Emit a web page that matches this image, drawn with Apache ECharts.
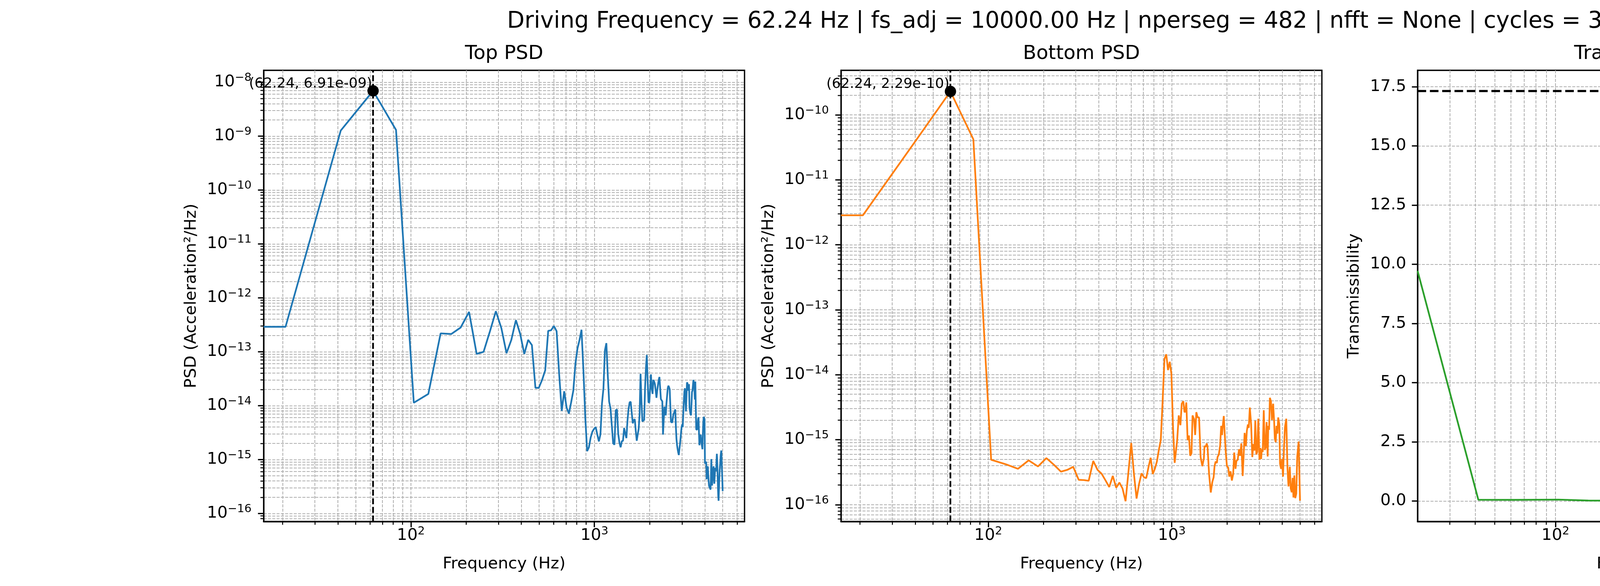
<!DOCTYPE html>
<html>
<head>
<meta charset="utf-8">
<script src="https://cdn.jsdelivr.net/npm/echarts@6/dist/echarts.min.js"></script>
<style>
html,body{margin:0;padding:0;background:#fff;}
#chart{width:5400px;height:1500px;}
</style>
</head>
<body>
<div id="chart"></div>
<script>
// ---------------- texts ----------------
const suptitleText = 'Driving Frequency = 62.24 Hz | fs_adj = 10000.00 Hz | nperseg = 482 | nfft = None | cycles = 3';
const panelTitles = ['Top PSD', 'Bottom PSD', 'Transfer Function'];
const xLabelText = 'Frequency (Hz)';
const psdLabelText = 'PSD (Acceleration\u00b2/Hz)';
const tfLabelText = 'Transmissibility';
const topAnnot = '(62.24, 6.91e-09)';
const bottomAnnot = '(62.24, 2.29e-10)';

// ---------------- tick values ----------------
const xMajor = [100, 1000];
const xMinor = [20, 30, 40, 50, 60, 70, 80, 90, 200, 300, 400, 500, 600, 700, 800, 900, 2000, 3000, 4000, 5000, 6000];
const topYMajor = [1e-16, 1e-15, 1e-14, 1e-13, 1e-12, 1e-11, 1e-10, 1e-9, 1e-8];
const bottomYMajor = [1e-16, 1e-15, 1e-14, 1e-13, 1e-12, 1e-11, 1e-10];
const minorMult = [2, 3, 4, 5, 6, 7, 8, 9];
const tfYTicks = [0, 2.5, 5, 7.5, 10, 12.5, 15, 17.5];

// ---------------- peaks / reference lines ----------------
const drivingFreq = 62.24;
const topPeak = 6.91e-9;
const bottomPeak = 2.29e-10;
const tfRefLine = 17.32;

// ---------------- data ----------------
// FFT bin frequencies (Hz)
const binFreq = [20.75,41.49,62.24,82.99,103.73,124.48,145.23,165.98,186.72,207.47,
228.22,248.96,269.71,290.46,311.20,331.95,352.70,373.44,394.19,414.94,
435.68,456.43,477.18,497.93,518.67,539.42,560.17,580.91,601.66,622.41,
643.15,663.90,684.65,705.39,726.14,746.89,767.63,788.38,809.13,829.88,
850.62,871.37,892.12,912.86,933.61,954.36,975.10,995.85,1016.60,1037.34,
1058.09,1078.84,1099.59,1120.33,1141.08,1161.83,1182.57,1203.32,1224.07,1244.81,
1265.56,1286.31,1307.05,1327.80,1348.55,1369.29,1390.04,1410.79,1431.54,1452.28,
1473.03,1493.78,1514.52,1535.27,1556.02,1576.76,1597.51,1618.26,1639.00,1659.75,
1680.50,1701.24,1721.99,1742.74,1763.49,1784.23,1804.98,1825.73,1846.47,1867.22,
1887.97,1908.71,1929.46,1950.21,1970.95,1991.70,2012.45,2033.20,2053.94,2074.69,
2095.44,2116.18,2136.93,2157.68,2178.42,2199.17,2219.92,2240.66,2261.41,2282.16,
2302.90,2323.65,2344.40,2365.15,2385.89,2406.64,2427.39,2448.13,2468.88,2489.63,
2510.37,2531.12,2551.87,2572.61,2593.36,2614.11,2634.85,2655.60,2676.35,2697.10,
2717.84,2738.59,2759.34,2780.08,2800.83,2821.58,2842.32,2863.07,2883.82,2904.56,
2925.31,2946.06,2966.80,2987.55,3008.30,3029.05,3049.79,3070.54,3091.29,3112.03,
3132.78,3153.53,3174.27,3195.02,3215.77,3236.51,3257.26,3278.01,3298.76,3319.50,
3340.25,3361.00,3381.74,3402.49,3423.24,3443.98,3464.73,3485.48,3506.22,3526.97,
3547.72,3568.46,3589.21,3609.96,3630.71,3651.45,3672.20,3692.95,3713.69,3734.44,
3755.19,3775.93,3796.68,3817.43,3838.17,3858.92,3879.67,3900.41,3921.16,3941.91,
3962.66,3983.40,4004.15,4024.90,4045.64,4066.39,4087.14,4107.88,4128.63,4149.38,
4170.12,4190.87,4211.62,4232.37,4253.11,4273.86,4294.61,4315.35,4336.10,4356.85,
4377.59,4398.34,4419.09,4439.83,4460.58,4481.33,4502.07,4522.82,4543.57,4564.32,
4585.06,4605.81,4626.56,4647.30,4668.05,4688.80,4709.54,4730.29,4751.04,4771.78,
4792.53,4813.28,4834.02,4854.77,4875.52,4896.27,4917.01,4937.76,4958.51,4979.25,
5000.00];

// Top PSD, one value per bin
const topPsd = [2.9e-13,1.27e-9,6.91e-9,1.3e-9,1.13e-14,1.65e-14,2.19e-13,2.13e-13,2.81e-13,5.48e-13,
9.1e-14,9.95e-14,2.4e-13,5.64e-13,2.74e-13,9.4e-14,1.66e-13,3.86e-13,2.13e-13,9.1e-14,
1.66e-13,1.33e-13,2.14e-14,2.14e-14,3.0e-14,4.5e-14,2.44e-13,2.5e-13,3.0e-13,2.4e-13,
3.7e-14,8.0e-15,1.85e-14,9.2e-15,7.1e-15,1.15e-14,1.9e-14,6.1e-14,1.16e-13,1.66e-13,
2.56e-13,4.5e-14,6e-15,1.43e-15,1.69e-15,2.56e-15,3.3e-15,3.7e-15,4.0e-15,2.9e-15,
2.17e-15,2.94e-15,1.09e-14,2.1e-14,1.06e-13,1.44e-13,3.7e-14,1.18e-14,8.9e-15,4.2e-15,
2.0e-15,1.89e-15,8.2e-15,8.5e-15,3.0e-15,2.05e-15,1.69e-15,2.19e-15,2.23e-15,3.85e-15,
3.0e-15,2.5e-15,5.3e-15,8.7e-15,1.15e-14,1.18e-14,7.4e-15,4.7e-15,5.4e-15,5.6e-15,
3.4e-15,2.23e-15,2.9e-15,3.7e-15,7e-15,3.9e-14,1.2e-14,5.1e-15,5.3e-15,5.4e-15,
2.1e-14,4.9e-14,8.7e-14,3.1e-14,1.15e-14,1.15e-14,2.1e-14,3.8e-14,2.1e-14,1.65e-14,
3.0e-14,2.8e-14,2.5e-14,1.9e-14,1.4e-14,1.9e-14,2.4e-14,3.0e-14,3.4e-14,2.1e-14,
1.32e-14,1.3e-14,1.2e-14,2.9e-15,5.3e-15,9.5e-15,7.8e-15,6.6e-15,1.09e-14,1.52e-14,
2.1e-14,2.34e-14,2.2e-14,2.0e-14,9.7e-15,5.0e-15,5.0e-15,4.85e-15,5.9e-15,7.0e-15,
7.3e-15,7.9e-15,8.5e-15,4.0e-15,2.4e-15,1.84e-15,1.55e-15,1.35e-15,1.21e-15,1.55e-15,
1.89e-15,2.4e-15,3.2e-15,4.0e-15,4.5e-15,4.0e-15,7.0e-15,1.2e-14,1.8e-14,2.1e-14,
1.3e-14,7.8e-15,1.44e-14,2.7e-14,2.6e-14,1.9e-14,2.2e-14,2.5e-14,9.2e-15,7.8e-15,
7.0e-15,6.6e-15,1.09e-14,1.8e-14,1.9e-14,2.4e-14,3.0e-14,3.1e-14,2.1e-14,1.3e-14,
2.8e-14,9.2e-15,3.6e-15,3.5e-15,3.6e-15,4.5e-15,5.6e-15,6.1e-15,3.2e-15,1.84e-15,
2.3e-15,2.5e-15,2.9e-15,2.3e-15,1.95e-15,1.75e-15,1.55e-15,3.0e-15,5.0e-15,6.2e-15,
5.9e-15,5.6e-15,8.4e-16,8.7e-16,8.9e-16,9.1e-16,4.3e-16,5.7e-16,7.0e-16,7.5e-16,
5.4e-16,4.1e-16,3.3e-16,3.1e-16,3.0e-16,2.9e-16,2.77e-16,4.7e-16,1.02e-15,5.7e-16,
3.3e-16,4.3e-16,5.7e-16,6.5e-16,7.5e-16,5.0e-16,3.56e-16,4.7e-16,6.2e-16,7.0e-16,
6.5e-16,6.1e-16,9.1e-16,1.28e-15,9.7e-16,5.7e-16,3.3e-16,2.1e-16,1.72e-16,2.8e-16,
4.3e-16,6.1e-16,7.5e-16,9.1e-16,1.18e-15,1.35e-15,1.47e-15,9.7e-16,6.2e-16,4.1e-16,
2.6e-16];

// Bottom PSD: first 50 bins, then traced vertices above ~1 kHz
const bottomPsdLow = [2.84e-12,4.5e-11,2.29e-10,4.2e-11,4.9e-16,4.19e-16,3.56e-16,4.8e-16,3.87e-16,5.2e-16,
4.1e-16,3.22e-16,3.43e-16,3.82e-16,2.41e-16,2.39e-16,2.33e-16,4.7e-16,3.43e-16,2.99e-16,
2.36e-16,1.87e-16,2.77e-16,1.82e-16,2.19e-16,1.77e-16,1.13e-16,3.2e-16,8.9e-16,2.96e-16,
1.24e-16,2.1e-16,3.03e-16,2.64e-16,2.56e-16,3.77e-16,5.27e-16,2.96e-16,3.56e-16,4.6e-16,
6.96e-16,9.8e-16,4e-15,1.75e-14,2.06e-14,1.18e-14,1.58e-14,1.03e-14,1.5e-15,4.4e-16];
const bottomFreqHigh = [1070.7,1091.7,1115.2,1133.6,1156.1,1173.2,1184.8,1200.4,1220.2,1240.3,
1260.7,1281.5,1298.3,1324.0,1341.5,1361.3,1383.7,1408.8,1436.6,1467.5,
1496.5,1508.8,1533.6,1551.3,1566.6,1597.6,1631.9,1664.2,1691.6,1711.0,
1733.5,1762.0,1776.5,1805.8,1835.5,1859.7,1881.1,1896.5,1921.4,1953.1,
1969.1,1998.3,2031.2,2057.9,2091.8,2126.2,2161.2,2189.7,2225.7,2251.3,
2288.4,2326.0,2356.6,2395.4,2434.9,2462.8,2495.2,2536.3,2565.5,2599.2,
2629.1,2663.7,2707.6,2747.7,2783.8,2820.4,2852.9,2890.4,2923.6,2962.1,
3005.9,3045.4,3070.4,3095.5,3131.1,3172.3,3214.0,3251.0,3288.4,3331.6,
3358.9,3392.0,3425.4,3470.5,3516.1,3568.2,3615.1,3644.7,3686.6,3722.9,
3765.7,3802.8,3859.1,3890.8,3942.0,3987.3,4039.7,4086.2,4139.9,4208.1,
4270.4,4326.6,4397.9,4448.5,4506.9,4558.8,4603.7,4656.6,4710.1,4772.1,
4827.0,4914.5,5000];
const bottomPsdHigh = [9.84e-16,2.36e-15,1.67e-15,3.58e-15,3.89e-15,2.65e-15,2.71e-15,3.75e-15,9.84e-16,1.16e-15,
5.65e-16,6.19e-16,2.36e-15,2.06e-15,1.18e-15,2.65e-15,2.2e-15,2.2e-15,5.4e-16,3.91e-16,
5.15e-16,7.98e-16,7.8e-16,8.75e-16,7.8e-16,2.96e-16,1.54e-16,2.24e-16,2.64e-16,3.91e-16,
4.59e-16,4.39e-16,5.4e-16,5.92e-16,8.17e-16,1.63e-15,1.18e-15,1.63e-15,2.31e-15,9.84e-16,
6.49e-16,3.91e-16,3.73e-16,2.7e-16,3.25e-16,2.35e-16,2.96e-16,6.34e-16,3.56e-16,4.7e-16,
4.92e-16,7.11e-16,5.65e-16,8.75e-16,2.76e-16,5.4e-16,1.27e-15,7.98e-16,1.36e-15,1.71e-15,
1.52e-15,3.12e-15,1.71e-15,5.4e-16,8.55e-16,6.79e-16,1.96e-15,5.92e-16,6.49e-16,2.1e-15,
4.92e-16,7.45e-16,5.04e-16,7.11e-16,6.49e-16,2.84e-15,6.95e-16,7.62e-16,1.87e-15,5.52e-16,
1.63e-15,1.42e-15,4.41e-15,3.93e-15,2.01e-15,3.58e-15,1.87e-15,1.03e-15,9.16e-16,1.63e-15,
1.24e-15,2.2e-15,1.71e-15,4.29e-16,3.56e-16,5.04e-16,2.7e-16,7.11e-16,1.56e-15,2.1e-15,
3.73e-16,1.91e-16,3.82e-16,1.78e-16,1.55e-16,2.58e-16,1.29e-16,2.82e-16,1.26e-16,1.48e-16,
5.4e-16,9.38e-16,1.15e-16];

// Transfer function (transmissibility)
const tfFreq = [20.75,41.49,62.24,103.73,145.23,300,415,456.43,497.93,539.42,
622.41,663.9,726.14,767.63,809.13,850.62,871.37,892.12,912.86,933.61,
954.36,975.10,995.85,1016.60,1036.9,1058.3,1078,1095.8,1118.5,1141.7,
1165.3,1181.9,1201.4,1218.7,1238.8,1256.7,1277.4,1298.5,1322.6,1344.4,
1364.0,1386.5,1415,1444.3,1468.1,1498.4,1529.4,1561.1,1599.7,1633,
1666.8,1708.2,1736.3,1772.2,1808.6,1857.6,1892.2,1931.3,1983.2,2024.3,
2087.6,2197.1,2275.1,2322.4,2360.6,2399.7,2449.3,2499.5,2551.3,2604.2,
2642.1,2674.6,2713.1,2752.6,2792.3,2838.3,2861.3,2885.1,2915.1,2963.2,
2993.4,3030.8,3080.9,3144.7,3183.3,3222.4,3288.9,3343.1,3384.1,3426.4,
3468.5,3518.4,3583.8,3643,3718.4,3764,3803.3,3858,3897.5,3953.5,
4002.1,4068,4118.6,4169.3,4229.3,4273.2,4325.7,4387.9,4451.9,4516.2,
4571.7,4637.4,4713.9,4772.8,4831.4,4911.3,5000];
const tfVal = [9.72,0.055,0.05,0.06,0.02,0.01,0.01,0.035,0.03,0.01,
0.01,0.05,0.06,0.05,0.015,0.01,0.04,0.12,12.9,12.75,
5.0,5.1,2.7,0.32,0.158,0.213,0.46,0.268,0.103,0.048,
0.048,0.147,0.361,0.103,0.296,0.296,0.367,0.323,0.241,0.422,
1.34,1.367,1.01,0.158,0.158,0.224,0.103,0.059,0.048,0.031,
0.048,0.169,0.13,0.009,0.114,0.339,0.103,0.048,0.075,0.037,
0.048,0.048,0.086,0.103,0.241,0.114,0.048,0.092,0.048,0.361,
0.378,0.515,0.378,0.103,0.296,0.598,1.257,1.202,0.405,0.68,
0.268,0.158,0.059,0.048,0.268,0.048,0.048,0.296,0.103,0.323,
0.213,0.103,1.065,0.213,0.927,0.46,1.065,1.037,0.185,0.075,
0.542,1.752,1.037,3.511,6.64,1.422,0.213,0.817,0.433,0.652,
0.268,0.542,0.185,0.955,0.378,1.01,0.7];

// ---------------- axis limits ----------------
const psdXMin = 15.77, psdXMax = 6578;
const tfXMin = 20.75, tfXMax = 5000;
const topYMin = Math.pow(10, -16.15), topYMax = Math.pow(10, -7.78);
const botYMin = Math.pow(10, -16.26), botYMax = Math.pow(10, -9.315);
const tfYMin = -0.866, tfYMax = 18.19;

// ---------------- styling ----------------
const FONT = 'DejaVu Sans';
const TICK_FS = 41.7;
const C_BLUE = '#1f77b4', C_ORANGE = '#ff7f0e', C_GREEN = '#2ca02c';
const GRID_LINE = {color: '#b0b0b0', width: 2.1, type: [7.7, 3.3]};
const RICH = {
  b: {fontFamily: FONT, fontSize: TICK_FS, color: '#000', lineHeight: 50},
  s: {fontFamily: FONT, fontSize: 29, color: '#000', lineHeight: 30, verticalAlign: 'top'}
};
function powLabel(v) {
  const e = Math.round(Math.log10(v));
  return '{b|10}{s|' + (e < 0 ? '\u2212' + (-e) : String(e)) + '}';
}
function minorsFor(majors) {
  const out = [];
  majors.forEach(d => minorMult.forEach(m => out.push(d * m / 10)));
  majors.forEach(d => minorMult.forEach(m => out.push(d * m)));
  return out;
}

const grids = [675, 2153, 3629].map(l => ({
  left: l, top: 180, width: 1231, height: 1155,
  show: true, borderColor: '#000', borderWidth: 3.3, backgroundColor: 'rgba(0,0,0,0)'
}));

function majorLogX(gi, min, max) {
  return {
    gridIndex: gi, type: 'log', logBase: 10, min: min, max: max, position: 'bottom',
    axisLine: {show: true, onZero: false, lineStyle: {color: '#000', width: 3.3}},
    axisTick: {show: true, inside: false, length: 14.6, customValues: xMajor, lineStyle: {color: '#000', width: 3.3}},
    axisLabel: {show: true, customValues: xMajor, formatter: powLabel, rich: RICH, margin: 11,
      fontFamily: FONT, fontSize: TICK_FS, color: '#000'},
    splitLine: {show: true, lineStyle: GRID_LINE},
    minorTick: {show: false}, minorSplitLine: {show: false},
    name: xLabelText, nameLocation: 'middle', nameGap: 88,
    nameTextStyle: {fontFamily: FONT, fontSize: TICK_FS, color: '#000'}
  };
}
function minorLogX(gi, min, max) {
  return {
    gridIndex: gi, type: 'log', logBase: 10, min: min, max: max, position: 'bottom',
    axisLine: {show: false, onZero: false},
    axisTick: {show: true, inside: false, length: 8.3, customValues: xMinor, lineStyle: {color: '#000', width: 2.5}},
    axisLabel: {show: false},
    splitLine: {show: true, lineStyle: GRID_LINE}
  };
}
function majorLogY(gi, min, max, majors) {
  return {
    gridIndex: gi, type: 'log', logBase: 10, min: min, max: max, position: 'left',
    axisLine: {show: true, onZero: false, lineStyle: {color: '#000', width: 3.3}},
    axisTick: {show: true, inside: false, length: 14.6, customValues: majors, lineStyle: {color: '#000', width: 3.3}},
    axisLabel: {show: true, customValues: majors, formatter: powLabel, rich: RICH, margin: 31,
      fontFamily: FONT, fontSize: TICK_FS, color: '#000'},
    splitLine: {show: true, lineStyle: GRID_LINE},
    minorTick: {show: false}, minorSplitLine: {show: false},
    name: psdLabelText, nameLocation: 'middle', nameGap: 164,
    nameTextStyle: {fontFamily: FONT, fontSize: TICK_FS, color: '#000'}
  };
}
function minorLogY(gi, min, max, majors) {
  return {
    gridIndex: gi, type: 'log', logBase: 10, min: min, max: max, position: 'left',
    axisLine: {show: false, onZero: false},
    axisTick: {show: true, inside: false, length: 8.3, customValues: minorsFor(majors), lineStyle: {color: '#000', width: 2.5}},
    axisLabel: {show: false},
    splitLine: {show: true, lineStyle: GRID_LINE}
  };
}

const xAxes = [
  majorLogX(0, psdXMin, psdXMax), minorLogX(0, psdXMin, psdXMax),
  majorLogX(1, psdXMin, psdXMax), minorLogX(1, psdXMin, psdXMax),
  majorLogX(2, tfXMin, tfXMax), minorLogX(2, tfXMin, tfXMax)
];
const yAxes = [
  majorLogY(0, topYMin, topYMax, topYMajor), minorLogY(0, topYMin, topYMax, topYMajor),
  majorLogY(1, botYMin, botYMax, bottomYMajor), minorLogY(1, botYMin, botYMax, bottomYMajor),
  {
    gridIndex: 2, type: 'value', min: tfYMin, max: tfYMax, position: 'left',
    axisLine: {show: true, onZero: false, lineStyle: {color: '#000', width: 3.3}},
    axisTick: {show: true, inside: false, length: 14.6, customValues: tfYTicks, lineStyle: {color: '#000', width: 3.3}},
    axisLabel: {show: true, customValues: tfYTicks, formatter: v => Number(v).toFixed(1), margin: 29,
      fontFamily: FONT, fontSize: TICK_FS, color: '#000'},
    splitLine: {show: true, lineStyle: GRID_LINE},
    name: tfLabelText, nameLocation: 'middle', nameGap: 141,
    nameTextStyle: {fontFamily: FONT, fontSize: TICK_FS, color: '#000'}
  }
];

// series data (clipped log-scale start continues flat to the left axis edge)
const topData = [[psdXMin, topPsd[0]]].concat(binFreq.map((f, i) => [f, topPsd[i]]));
const bottomData = [[psdXMin, bottomPsdLow[0]]]
  .concat(bottomPsdLow.map((v, i) => [binFreq[i], v]))
  .concat(bottomFreqHigh.map((f, i) => [f, bottomPsdHigh[i]]));
const tfData = tfFreq.map((f, i) => [f, tfVal[i]]);

const REF_LINE = {color: '#000', width: 4.4, type: [15.4, 6.7]};
function peakSeries(xi, yi, peak, text) {
  return {
    type: 'scatter', xAxisIndex: xi, yAxisIndex: yi, z: 6, silent: true,
    data: [[drivingFreq, peak]], symbol: 'circle', symbolSize: 29,
    itemStyle: {color: '#000', opacity: 1},
    label: {show: true, formatter: text, position: [12, 14.5], align: 'right', verticalAlign: 'bottom',
      fontFamily: FONT, fontSize: 36, color: '#000'},
    markLine: {silent: true, symbol: 'none', animation: false, z: 5,
      lineStyle: REF_LINE, label: {show: false},
      data: [{xAxis: drivingFreq}, {yAxis: peak}]}
  };
}

const option = {
  animation: false,
  backgroundColor: '#fff',
  textStyle: {fontFamily: FONT},
  title: [
    {text: suptitleText, left: 2700, top: 27, textAlign: 'center', padding: 0,
      textStyle: {fontFamily: FONT, fontSize: 58.3, fontWeight: 'normal', color: '#000'}},
    {text: panelTitles[0], left: 1290.5, top: 113, textAlign: 'center', padding: 0,
      textStyle: {fontFamily: FONT, fontSize: 50, fontWeight: 'normal', color: '#000'}},
    {text: panelTitles[1], left: 2768.5, top: 113, textAlign: 'center', padding: 0,
      textStyle: {fontFamily: FONT, fontSize: 50, fontWeight: 'normal', color: '#000'}},
    {text: panelTitles[2], left: 4244.5, top: 113, textAlign: 'center', padding: 0,
      textStyle: {fontFamily: FONT, fontSize: 50, fontWeight: 'normal', color: '#000'}}
  ],
  grid: grids,
  xAxis: xAxes,
  yAxis: yAxes,
  series: [
    {type: 'line', xAxisIndex: 0, yAxisIndex: 0, data: topData, symbol: 'none', showSymbol: false,
      lineStyle: {color: C_BLUE, width: 4.4}, clip: true, z: 3, silent: true},
    peakSeries(0, 0, topPeak, topAnnot),
    {type: 'line', xAxisIndex: 2, yAxisIndex: 2, data: bottomData, symbol: 'none', showSymbol: false,
      lineStyle: {color: C_ORANGE, width: 4.4}, clip: true, z: 3, silent: true},
    peakSeries(2, 2, bottomPeak, bottomAnnot),
    {type: 'line', xAxisIndex: 4, yAxisIndex: 4, data: tfData, symbol: 'none', showSymbol: false,
      lineStyle: {color: C_GREEN, width: 4.4}, clip: true, z: 3, silent: true,
      markLine: {silent: true, symbol: 'none', animation: false, z: 5,
        lineStyle: {color: '#000', width: 5.5, type: [22, 9.5]}, label: {show: false},
        data: [{yAxis: tfRefLine}]}}
  ]
};

const chart = echarts.init(document.getElementById('chart'), null, {renderer: 'canvas'});
chart.setOption(option);
</script>
</body>
</html>
